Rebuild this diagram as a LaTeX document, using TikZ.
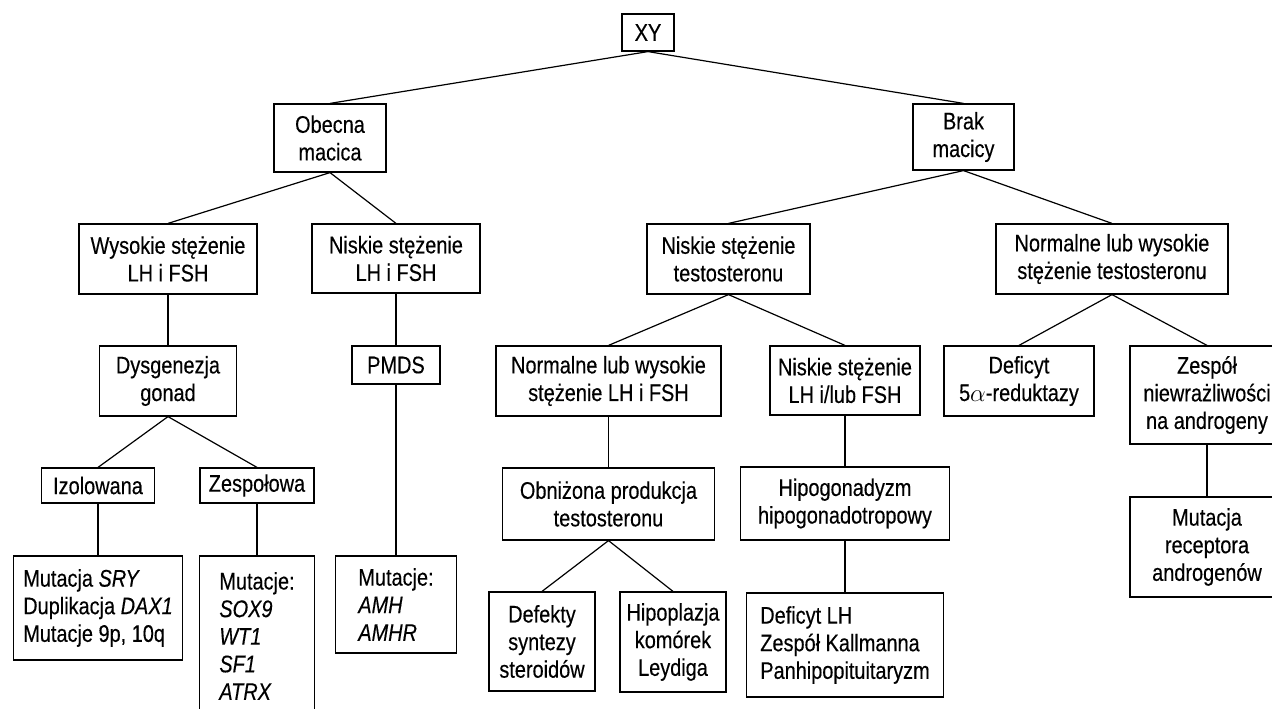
\documentclass[tikz,border=0pt]{standalone}
\usepackage{fontspec}
\setmainfont{Liberation Sans}[FakeStretch=0.83,FakeBold=0.3]
\begin{document}
\begin{tikzpicture}[x=1pt,y=-1pt,
		box/.style={draw,black,line width=1.2pt,inner sep=0pt,align=center,font=\fontsize{24}{27.6}\selectfont},
		listbox/.style={box,align=left},
		link/.style={draw,black,line width=1.2pt}]
		\useasboundingbox (0,0) rectangle (1272,709);
		\node[box,minimum width=52pt,minimum height=37pt](xy) at (648,32.5){XY};
		\node[box,minimum width=112pt,minimum height=68pt](obecna) at (330,138){Obecna\\macica};
		\node[box,minimum width=101pt,minimum height=66pt](brak) at (963.5,137){Brak\\macicy};
		\node[box,minimum width=178pt,minimum height=70pt](wysokieLH) at (168,259){Wysokie stężenie\\LH i FSH};
		\node[box,minimum width=168pt,minimum height=69pt](niskieLH) at (396,258.5){Niskie stężenie\\LH i FSH};
		\node[box,minimum width=137pt,minimum height=70pt](dysgenezja) at (168,381){Dysgenezja\\gonad};
		\node[box,minimum width=88pt,minimum height=38pt](pmds) at (396,365){PMDS};
		\node[box,minimum width=113pt,minimum height=35pt](izolowana) at (98,485.5){Izolowana};
		\node[box,minimum width=114pt,minimum height=35pt](zespolowa) at (257,485.5){Zespołowa};
		\node[listbox,minimum width=169pt,minimum height=104pt](mutSRY) at (98,608){Mutacja \textit{SRY}\\Duplikacja \textit{DAX1}\\Mutacje 9p, 10q};
		\node[listbox,minimum width=115pt,minimum height=160pt](mutSOX) at (257,636){Mutacje:\\\textit{SOX9}\\\textit{WT1}\\\textit{SF1}\\\textit{ATRX}};
		\node[listbox,minimum width=121pt,minimum height=97pt](mutAMH) at (396,604.5){Mutacje:\\\textit{AMH}\\\textit{AMHR}};
		\node[box,minimum width=163pt,minimum height=70pt](niskieT) at (728.5,259){Niskie stężenie\\testosteronu};
		\node[box,minimum width=225pt,minimum height=70pt](normLH) at (608.5,381){Normalne lub wysokie\\stężenie LH i FSH};
		\node[box,minimum width=150pt,minimum height=69pt](niskieLHlub) at (845,380.5){Niskie stężenie\\LH i/lub FSH};
		\node[box,minimum width=212pt,minimum height=72pt](obnizona) at (608.5,504){Obniżona produkcja\\testosteronu};
		\node[box,minimum width=209pt,minimum height=73pt](hipogon) at (845,503.5){Hipogonadyzm\\hipogonadotropowy};
		\node[box,minimum width=106pt,minimum height=99pt](defekty) at (542,641.5){Defekty\\syntezy\\steroidów};
		\node[box,minimum width=106pt,minimum height=100pt](hipoplazja) at (673,642){Hipoplazja\\komórek\\Leydiga};
		\node[listbox,minimum width=197pt,minimum height=104pt](deficytLH) at (845,645){Deficyt LH\\Zespół Kallmanna\\Panhipopituitaryzm};
		\node[box,minimum width=232pt,minimum height=70pt](normT) at (1112,259){Normalne lub wysokie\\stężenie testosteronu};
		\node[box,minimum width=150pt,minimum height=70pt](deficyt5a) at (1019,381){Deficyt\\5$\alpha$-reduktazy};
		\node[box,minimum width=154pt,minimum height=98pt](zespAIS) at (1207,395){Zespół\\niewrażliwości\\na androgeny};
		\node[box,minimum width=154pt,minimum height=100pt](mutAR) at (1207,547){Mutacja\\receptora\\androgenów};
		% lewa galaz
		\draw[link](xy.south)--(obecna.north);
		\draw[link](obecna.south)--(wysokieLH.north);
		\draw[link](obecna.south)--(niskieLH.north);
		\draw[link](wysokieLH.south)--(dysgenezja.north);
		\draw[link](dysgenezja.south)--(izolowana.north);
		\draw[link](dysgenezja.south)--(zespolowa.north);
		\draw[link](izolowana.south)--(mutSRY.north);
		\draw[link](zespolowa.south)--(mutSOX.north);
		\draw[link](niskieLH.south)--(pmds.north);
		\draw[link](pmds.south)--(mutAMH.north);
		% prawa galaz
		\draw[link](xy.south)--(brak.north);
		\draw[link](brak.south)--(niskieT.north);
		\draw[link](brak.south)--(normT.north);
		\draw[link](niskieT.south)--(normLH.north);
		\draw[link](niskieT.south)--(niskieLHlub.north);
		\draw[link](normLH.south)--(obnizona.north);
		\draw[link](obnizona.south)--(defekty.north);
		\draw[link](obnizona.south)--(hipoplazja.north);
		\draw[link](niskieLHlub.south)--(hipogon.north);
		\draw[link](hipogon.south)--(deficytLH.north);
		\draw[link](normT.south)--(deficyt5a.north);
		\draw[link](normT.south)--(zespAIS.north);
		\draw[link](zespAIS.south)--(mutAR.north);
	\end{tikzpicture}
\end{document}
